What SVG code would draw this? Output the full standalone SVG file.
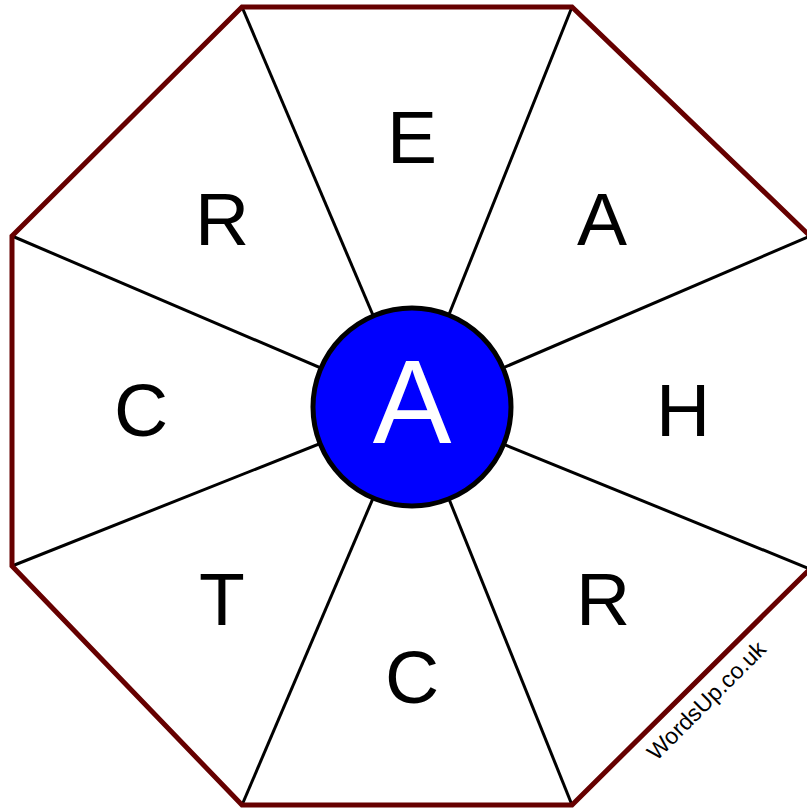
<svg xmlns="http://www.w3.org/2000/svg" width="807" height="810" viewBox="0 0 807 810">
<style>
.spoke{stroke:#000;stroke-width:3;fill:none}
.oct{stroke:#660000;stroke-width:5;fill:none;stroke-linejoin:miter}
.lt{font-family:"Liberation Sans",Arial,sans-serif;font-size:75px;fill:#000;text-anchor:middle}
</style>
<rect width="807" height="810" fill="#fff"/>
<g id="connectors">
<line class="spoke" x1="412" y1="407" x2="242" y2="7"/>
<line class="spoke" x1="412" y1="407" x2="572" y2="7"/>
<line class="spoke" x1="412" y1="407" x2="810" y2="236"/>
<line class="spoke" x1="412" y1="407" x2="810" y2="569"/>
<line class="spoke" x1="412" y1="407" x2="572" y2="805"/>
<line class="spoke" x1="412" y1="407" x2="242" y2="805"/>
<line class="spoke" x1="412" y1="407" x2="12" y2="566"/>
<line class="spoke" x1="412" y1="407" x2="12" y2="236"/>
</g>
<g id="octagon">
<polygon class="oct" points="242,7 572,7 810,236 810,569 572,805 242,805 12,566 12,236"/>
</g>
<g id="center">
<circle cx="412" cy="407" r="99" fill="#0000ff" stroke="#000" stroke-width="5"/>
<text x="412" y="443" font-family="Liberation Sans,Arial,sans-serif" font-size="118" fill="#fff" text-anchor="middle">A</text>
</g>
<g id="n-E"><text class="lt" x="412" y="163">E</text></g>
<g id="n-A"><text class="lt" x="602" y="245">A</text></g>
<g id="n-H"><text class="lt" x="683" y="436">H</text></g>
<g id="n-R1"><text class="lt" x="603" y="625">R</text></g>
<g id="n-C1"><text class="lt" x="412" y="703">C</text></g>
<g id="n-T"><text class="lt" x="222" y="625">T</text></g>
<g id="n-C2"><text class="lt" x="141" y="436">C</text></g>
<g id="n-R2"><text class="lt" x="222" y="245">R</text></g>
<g id="watermark">
<text x="712" y="706" font-family="Liberation Sans,Arial,sans-serif" font-size="23" fill="#000" text-anchor="middle" transform="rotate(-45 712 706)">WordsUp.co.uk</text>
</g>
</svg>
